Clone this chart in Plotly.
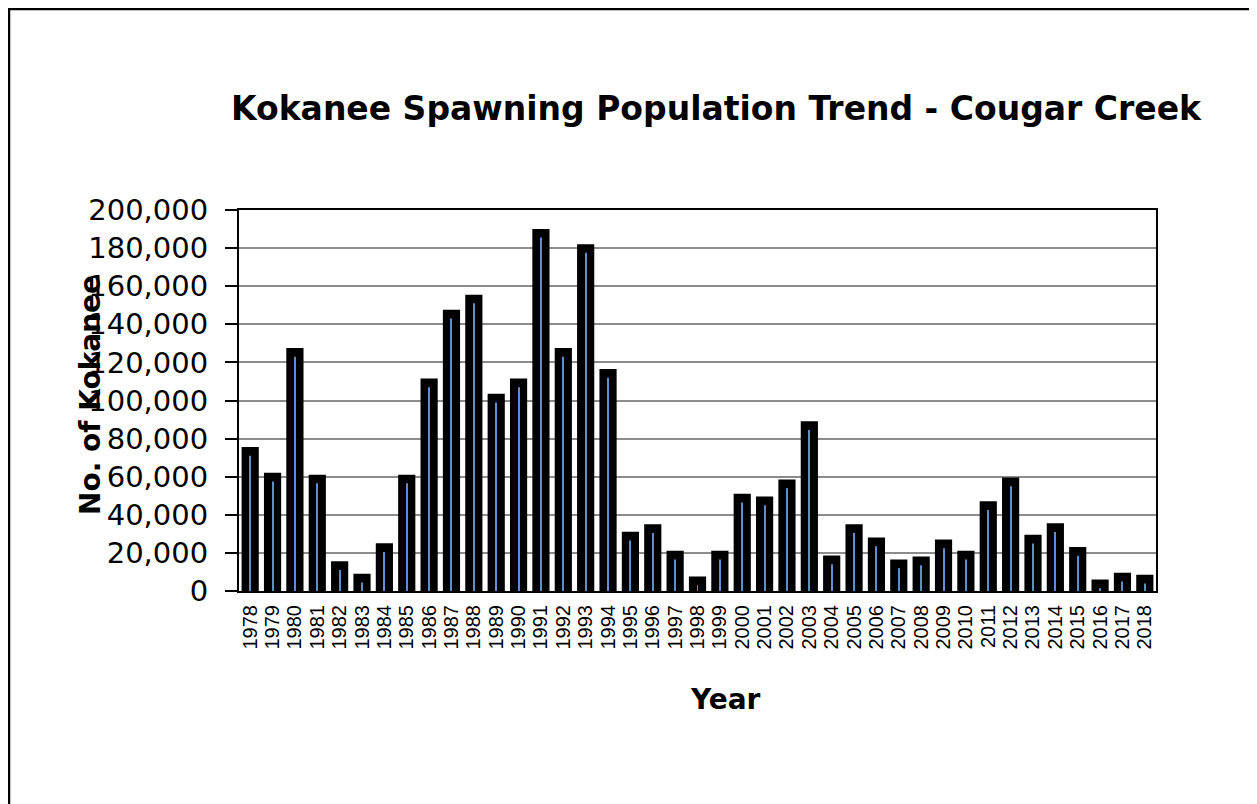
import numpy as np
import plotly.graph_objects as go

years = [str(y) for y in range(1978, 2019)]
kokanee = [74000, 60500, 126000, 59500, 14000, 7500, 23500, 59500, 110000, 146000,
           154000, 102000, 110000, 188500, 126000, 180500, 115000, 29500, 33500, 19500,
           6000, 19500, 49500, 48000, 57000, 87500, 17000, 33500, 26500, 15000,
           16500, 25500, 19500, 45500, 58000, 28000, 34000, 21500, 4500, 8000, 7000]

OFF = 8  # page body margin
W, H = 1257 - OFF, 804 - OFF
L, R, T, B = 239 - OFF, 1156 - OFF, 210 - OFF, 591 - OFF
pw, ph = R - L, B - T

def px(x):
    return (x - OFF - L) / pw

def py(y):
    return (B - (y - OFF)) / ph

inner = np.maximum(np.array(kokanee) - 3000, 0)

fig = go.Figure()
fig.add_trace(go.Bar(
    x=years, y=kokanee, width=0.5,
    marker=dict(color="black", line=dict(color="black", width=6)),
    hoverinfo="x+y",
))
fig.add_trace(go.Bar(
    x=years, y=inner, width=0.045,
    marker=dict(color="#5B8FD0", line=dict(width=0)),
    hoverinfo="skip",
))

fig.update_layout(
    width=W, height=H,
    margin=dict(l=L, r=W - R, t=T, b=H - B, autoexpand=False),
    paper_bgcolor="white", plot_bgcolor="white",
    barmode="overlay", showlegend=False,
    font=dict(family="DejaVu Sans", color="black"),
    xaxis=dict(
        type="category", tickangle=-90,
        tickmode="array", tickvals=years, ticktext=years,
        tickfont=dict(family="Liberation Sans", size=20, color="black"),
        showline=True, linecolor="black", linewidth=2, mirror=True,
        showgrid=False, ticks="", ticklabelstandoff=4,
    ),
    yaxis=dict(
        range=[0, 200000], dtick=20000, tickformat=",",
        tickfont=dict(family="DejaVu Sans", size=29, color="black"),
        showline=True, linecolor="black", linewidth=2, mirror=True,
        showgrid=True, gridcolor="#8c8c8c", gridwidth=1.5,
        ticks="outside", ticklen=12, tickcolor="black", tickwidth=1.5,
        ticklabelstandoff=11, zeroline=False,
    ),
    shapes=[dict(type="rect", xref="paper", yref="paper",
                 x0=px(9), x1=px(1252), y0=py(830), y1=py(9),
                 line=dict(color="black", width=2.5), layer="below")],
    annotations=[
        dict(text="<b>Kokanee Spawning Population Trend - Cougar Creek</b>",
             xref="paper", yref="paper", x=px(716), y=py(108),
             xanchor="center", yanchor="middle", showarrow=False,
             font=dict(family="DejaVu Sans", size=33, color="black")),
        dict(text="<b>No. of Kokanee</b>", textangle=-90,
             xref="paper", yref="paper", x=px(90), y=py(395),
             xanchor="center", yanchor="middle", showarrow=False,
             font=dict(family="DejaVu Sans", size=28, color="black")),
        dict(text="<b>Year</b>",
             xref="paper", yref="paper", x=px(725), y=py(699),
             xanchor="center", yanchor="middle", showarrow=False,
             font=dict(family="DejaVu Sans", size=28, color="black")),
    ],
)

fig.write_html("out.html")
